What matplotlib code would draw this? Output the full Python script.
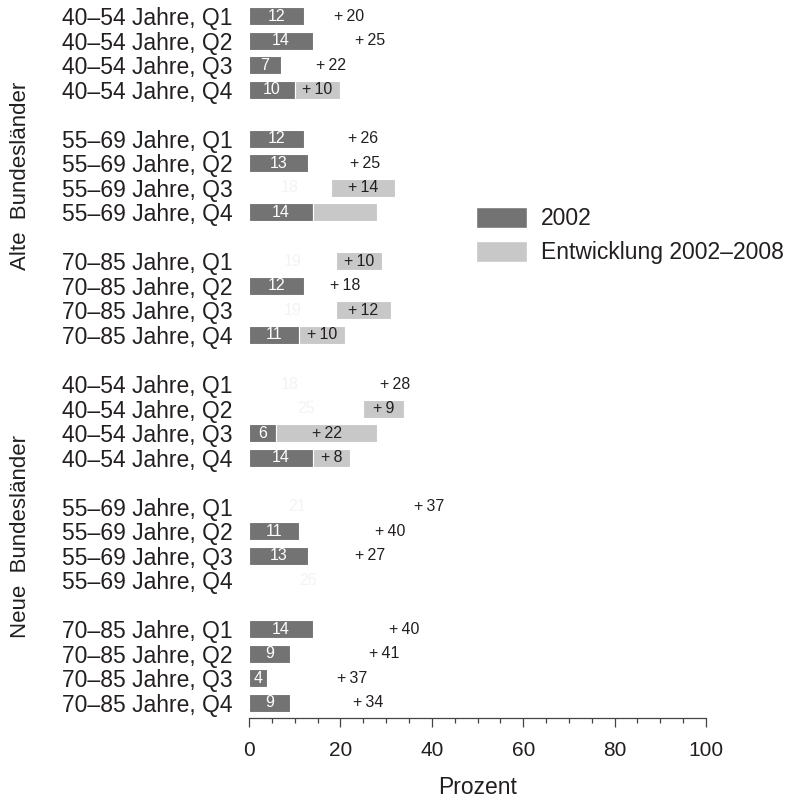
import numpy as np
import matplotlib
matplotlib.use("Agg")
import matplotlib.pyplot as plt
from matplotlib.patches import Patch

plt.rcParams['font.family'] = ['Liberation Sans', 'DejaVu Sans']

groups = ["Alte  Bundesländer", "Neue  Bundesländer"]
ages = ["40–54 Jahre", "55–69 Jahre", "70–85 Jahre"]
quartiles = ["Q1", "Q2", "Q3", "Q4"]

# value 2002 per row (top to bottom)
base_2002 = [12, 14, 7, 10, 12, 13, 18, 14, 19, 12, 19, 11,
             18, 25, 6, 14, 21, 11, 13, 26, 14, 9, 4, 9]
# development 2002-2008 per row
development = [20, 25, 22, 10, 26, 25, 14, 14, 10, 18, 12, 10,
               28, 9, 22, 8, 37, 40, 27, np.nan, 40, 41, 37, 34]
# which bars are visibly drawn in the original
base_drawn = [1, 1, 1, 1, 1, 1, 0, 1, 0, 1, 0, 1,
              0, 0, 1, 1, 0, 1, 1, 0, 1, 1, 1, 1]
dev_drawn = [0, 0, 0, 1, 0, 0, 1, 1, 1, 0, 1, 1,
             0, 1, 1, 1, 0, 0, 0, 0, 0, 0, 0, 0]
dev_label_shown = [1, 1, 1, 1, 1, 1, 1, 0, 1, 1, 1, 1,
                   1, 1, 1, 1, 1, 1, 1, 0, 1, 1, 1, 1]
series_names = ["2002", "Entwicklung 2002–2008"]

DARK = "#737373"
LIGHT = "#c8c8c8"
TXT = "#231f20"
FS = 16.5

labels = []
ypos = []
for gi in range(2):
    for ai, age in enumerate(ages):
        for qi, q in enumerate(quartiles):
            labels.append(f"{age}, {q}")
            ypos.append((gi * 3 + ai) * 5 + qi)
ypos = np.array(ypos, dtype=float)

fig = plt.figure(figsize=(7.91, 8.01), dpi=100)
ax = fig.add_axes([249 / 791, 1 - 717.7 / 801, (706 - 249) / 791, (717.7 - 1.3) / 801])

h = 0.73
for i, y in enumerate(ypos):
    b = base_2002[i]
    d = development[i]
    if base_drawn[i]:
        ax.barh(y, b, height=h, color=DARK, edgecolor="white", linewidth=0.8)
        ax.text(b / 2, y, str(b), ha="center", va="center", color="white", fontsize=11.5)
    else:
        ax.text(b / 2, y, str(b), ha="center", va="center", color="#f3f3f3", fontsize=11.5)
    if not np.isnan(d):
        if dev_drawn[i]:
            ax.barh(y, d, left=b, height=h, color=LIGHT, edgecolor="white", linewidth=0.8)
        if dev_label_shown[i]:
            ax.text(b + d / 2, y, "+\u2009" + str(int(d)), ha="center", va="center",
                    color=TXT, fontsize=11.5)

ax.set_xlim(0, 100)
ax.set_ylim(28.6, -0.6)
ax.set_yticks(ypos)
ax.set_yticklabels(labels, fontsize=FS, color=TXT)
ax.tick_params(axis="y", length=0, pad=12)
ax.set_xticks(np.arange(0, 101, 20))
ax.set_xticks(np.arange(0, 101, 5), minor=True)
ax.tick_params(axis="x", which="major", length=6.5, width=0.9, colors="#444444",
               labelcolor=TXT, labelsize=15, pad=10)
ax.tick_params(axis="x", which="minor", length=3.6, width=0.9, colors="#444444")
for s in ["top", "right", "left"]:
    ax.spines[s].set_visible(False)
ax.spines["bottom"].set_color("#444444")
ax.spines["bottom"].set_linewidth(0.9)
ax.set_xlabel("Prozent", fontsize=FS, color=TXT, labelpad=12)

# group labels
ax.text(-0.50, 1 - (6.5 + 0.6) / 29.2, groups[0], transform=ax.transAxes, rotation=90,
        ha="center", va="center", fontsize=16, color=TXT)
ax.text(-0.50, 1 - (21.2 + 0.6) / 29.2, groups[1], transform=ax.transAxes, rotation=90,
        ha="center", va="center", fontsize=16, color=TXT)

handles = [Patch(facecolor=DARK, edgecolor="white"), Patch(facecolor=LIGHT, edgecolor="white")]
fig.legend(handles, series_names, loc="upper left", bbox_to_anchor=(476 / 791, 1 - 207 / 801),
           frameon=False, fontsize=FS, handlelength=2.23, handleheight=1.05,
           handletextpad=0.6, labelspacing=0.45, borderpad=0, borderaxespad=0,
           labelcolor=TXT)

fig.savefig("out.png", dpi=100)
